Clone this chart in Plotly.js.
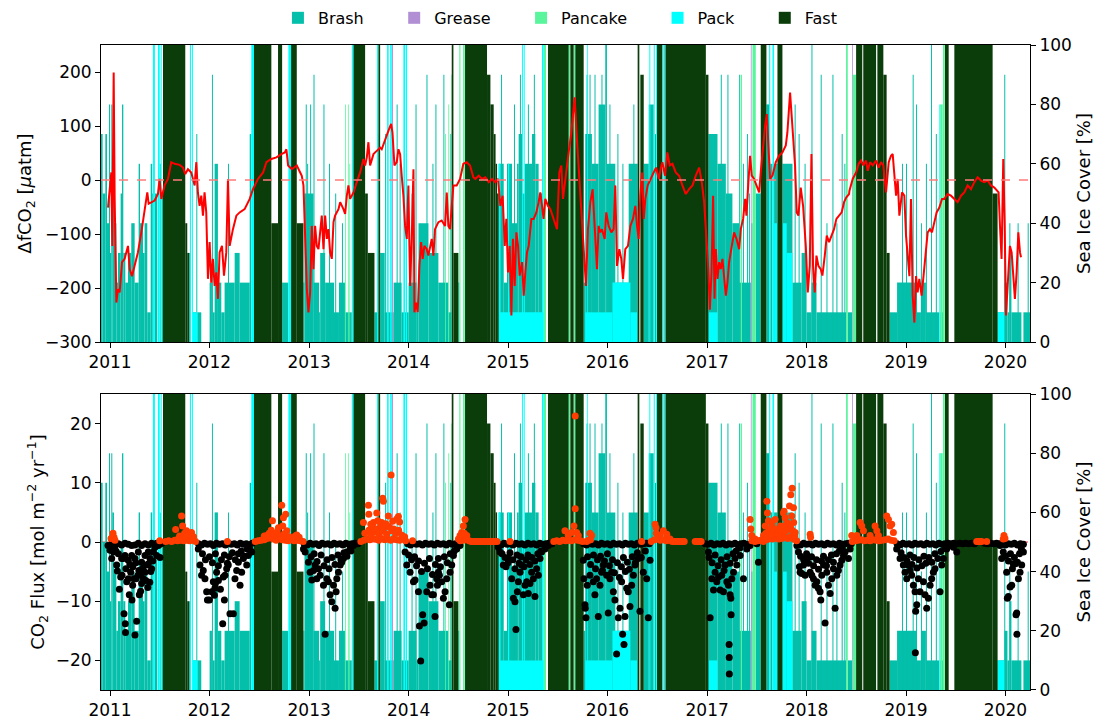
<!DOCTYPE html>
<html><head><meta charset="utf-8">
<script src="https://cdn.plot.ly/plotly-3.0.1.min.js"></script>
<style>html,body{margin:0;padding:0;background:#fff}#chart{width:1099px;height:724px}</style>
</head><body><div id="chart"></div>
<script>
// ---- Sea-ice segments: [start (decimal year), end (decimal year), cover %] ----
const brash=[
[2010.905,2010.926,70],[2010.926,2010.953,50],[2010.953,2010.970,70],[2010.970,2010.990,40],[2010.990,2011.000,80],[2011.000,2011.013,30],[2011.013,2011.023,80],[2011.023,2011.040,60],[2011.040,2011.064,40],[2011.064,2011.080,20],[2011.080,2011.107,30],[2011.107,2011.121,50],[2011.121,2011.134,80],[2011.134,2011.154,30],[2011.154,2011.181,20],[2011.181,2011.214,30],[2011.214,2011.248,40],[2011.248,2011.288,20],[2011.288,2011.302,60],[2011.302,2011.332,40],[2011.332,2011.348,30],[2011.348,2011.375,40],[2011.375,2011.409,10],[2011.409,2011.425,60],[2011.425,2011.432,50],[2011.452,2011.476,50],[2011.500,2011.510,60],[2011.520,2011.533,50],
[2011.796,2011.804,30],[2011.834,2011.868,10],[2011.868,2011.878,70],[2011.878,2011.918,10],
[2012.002,2012.025,20],[2012.025,2012.035,90],[2012.035,2012.052,10],[2012.052,2012.085,60],[2012.085,2012.119,20],[2012.119,2012.152,10],[2012.152,2012.186,20],[2012.186,2012.196,60],[2012.196,2012.253,20],[2012.253,2012.303,30],[2012.303,2012.404,20],[2012.404,2012.420,70],
[2012.729,2012.792,20],
[2012.943,2012.953,20],[2012.953,2013.044,50],[2013.044,2013.100,20],[2013.100,2013.111,10],[2013.111,2013.161,30],[2013.161,2013.250,20],[2013.250,2013.300,10],[2013.300,2013.360,20],[2013.360,2013.429,10],
[2012.966,2012.976,80],[2012.980,2012.990,60],[2013.010,2013.020,80],[2013.044,2013.054,90],[2013.144,2013.154,80],[2013.200,2013.210,60],[2013.262,2013.272,50],[2013.330,2013.340,40],
[2013.657,2013.697,10],[2013.714,2013.760,30],[2013.760,2013.850,10],[2013.850,2013.930,20],[2013.930,2014.000,10],[2014.000,2014.080,20],[2014.080,2014.100,10],[2014.100,2014.200,40],[2014.200,2014.300,30],[2014.300,2014.400,20],[2014.400,2014.434,10],[2014.501,2014.510,20],
[2013.700,2013.710,70],[2013.764,2013.774,70],[2013.880,2013.890,80],[2013.910,2013.920,60],[2014.030,2014.040,50],[2014.070,2014.080,80],[2014.180,2014.190,90],[2014.240,2014.250,60],[2014.270,2014.280,80],[2014.350,2014.360,90],[2014.420,2014.430,70],
[2014.906,2014.957,60],[2014.957,2014.990,20],[2014.990,2015.040,60],[2015.040,2015.091,40],[2015.091,2015.107,60],[2015.107,2015.141,70],[2015.141,2015.168,50],[2015.168,2015.241,60],[2015.241,2015.275,70],[2015.275,2015.308,60],[2015.308,2015.342,50],
[2014.930,2014.940,90],[2015.060,2015.070,80],[2015.120,2015.130,90],[2015.200,2015.210,80],[2015.260,2015.270,90],
[2015.761,2015.777,20],[2015.777,2015.844,70],[2015.844,2015.911,60],[2015.911,2015.978,80],[2015.978,2015.995,100],[2015.995,2016.079,60],[2016.079,2016.213,20],[2016.213,2016.303,60],
[2015.790,2015.800,90],[2015.820,2015.830,90],[2015.870,2015.880,90],[2015.940,2015.950,90],[2016.020,2016.030,80],[2016.100,2016.110,70],[2016.150,2016.160,60],[2016.260,2016.270,80],
[2016.364,2016.414,60],[2016.414,2016.464,80],[2016.475,2016.488,70],[2016.570,2016.585,100],
[2017.013,2017.104,70],[2017.104,2017.188,60],[2017.188,2017.254,50],[2017.254,2017.322,40],[2017.322,2017.439,20],[2017.445,2017.456,40],[2017.489,2017.539,50],[2017.596,2017.623,80],[2017.635,2017.657,60],
[2017.137,2017.147,90],[2017.204,2017.214,90],[2017.322,2017.332,90],[2017.360,2017.370,60],[2017.400,2017.410,70],[2017.420,2017.430,50],
[2017.673,2017.707,60],[2017.757,2017.858,60],[2017.858,2017.950,20],[2017.950,2018.000,30],[2018.000,2018.050,10],[2018.050,2018.100,20],[2018.100,2018.397,10],[2018.414,2018.457,10],
[2017.880,2017.890,80],[2017.920,2017.930,70],[2017.980,2017.990,60],[2018.049,2018.059,100],[2018.142,2018.152,90],[2018.200,2018.210,40],[2018.260,2018.270,90],[2018.300,2018.310,40],[2018.353,2018.363,70],[2018.380,2018.390,60],
[2018.835,2018.910,10],[2018.910,2019.110,20],[2019.110,2019.150,10],[2019.150,2019.200,20],[2019.200,2019.335,10],[2019.345,2019.380,10],
[2018.960,2018.970,60],[2019.000,2019.010,60],[2019.067,2019.077,90],[2019.101,2019.111,80],[2019.150,2019.160,40],[2019.200,2019.210,60],[2019.251,2019.261,100],[2019.300,2019.310,70],
[2019.921,2019.990,10],[2019.990,2020.020,20],[2020.020,2020.039,10],[2020.039,2020.060,30],[2020.060,2020.160,10],[2020.180,2020.250,10],
[2019.988,2019.998,90],[2020.039,2020.049,40],[2020.122,2020.132,40],[2020.223,2020.233,40]
];
const grease=[[2013.834,2013.844,100],[2016.065,2016.072,20],[2017.439,2017.447,100],[2018.400,2018.407,90],[2018.457,2018.465,100]];
const pancake=[
[2012.427,2012.435,100],[2013.362,2013.370,80],[2013.390,2013.398,80],[2013.405,2013.412,60],
[2014.367,2014.375,70],[2014.400,2014.408,80],[2014.430,2014.436,90],[2014.510,2014.522,100],[2014.548,2014.565,100],
[2015.358,2015.382,100],[2015.610,2015.627,100],[2015.660,2015.677,100],
[2017.338,2017.350,90],[2017.456,2017.489,100],
[2018.397,2018.414,100],[2018.464,2018.498,90],[2019.345,2019.369,80],[2019.372,2019.390,100]
];
const pack=[
[2011.432,2011.452,100],[2011.482,2011.500,100],[2011.510,2011.520,100],[2011.804,2011.815,100],[2011.825,2011.834,100],[2011.834,2011.880,10],
[2012.420,2012.447,100],[2012.792,2012.819,100],
[2013.429,2013.446,100],[2013.683,2013.697,100],[2013.784,2013.800,100],[2013.815,2013.831,100],[2013.948,2013.965,100],[2013.972,2013.985,100],
[2014.906,2015.358,10],[2014.906,2014.925,60],[2015.000,2015.012,60],[2015.141,2015.150,100],[2015.158,2015.168,100],[2015.342,2015.358,100],
[2015.777,2016.050,10],[2016.050,2016.230,20],[2016.230,2016.300,10],[2015.794,2015.802,100],
[2016.420,2016.430,100],[2016.464,2016.475,100],[2016.488,2016.497,100],[2016.555,2016.565,100],
[2017.013,2017.104,10],[2017.623,2017.635,100],[2017.657,2017.673,100],[2017.673,2017.707,40],[2017.757,2017.800,40],[2017.800,2017.858,30],
[2019.335,2019.345,80],[2019.921,2019.988,10]
];
const fast=[
[2011.533,2011.757,100],[2011.757,2011.777,40],[2011.777,2011.796,30],
[2012.447,2012.621,100],[2012.621,2012.688,40],[2012.688,2012.729,100],[2012.819,2012.876,100],[2012.876,2012.943,40],
[2013.446,2013.563,100],[2013.563,2013.590,50],[2013.590,2013.657,30],[2013.697,2013.714,100],
[2014.434,2014.451,100],[2014.451,2014.501,30],[2014.568,2014.789,100],[2014.789,2014.823,90],[2014.823,2014.856,80],[2014.856,2014.875,70],[2014.875,2014.890,60],[2014.890,2014.906,50],
[2015.402,2015.610,100],[2015.627,2015.660,100],[2015.677,2015.761,100],
[2016.303,2016.320,100],[2016.330,2016.364,90],[2016.497,2016.551,100],[2016.585,2016.987,100],[2016.987,2017.013,90],
[2017.539,2017.596,100],[2017.707,2017.757,100],
[2018.498,2018.560,100],[2018.570,2018.699,100],[2018.712,2018.772,100],[2018.772,2018.805,90],[2018.805,2018.835,30],
[2019.392,2019.429,100],[2019.486,2019.871,100],[2019.871,2019.921,50]
];

// ---- Delta fCO2 [µatm]: [decimal year, value] ----
const dfco2=[
[2010.980,-51],[2010.997,-10],[2011.013,14],[2011.023,-122],[2011.037,199],[2011.047,-35],[2011.064,-227],[2011.080,-202],[2011.097,-208],[2011.121,-152],[2011.147,-146],[2011.181,-122],[2011.198,-165],[2011.221,-178],[2011.248,-159],[2011.281,-134],[2011.315,-97],[2011.348,-54],[2011.375,-23],[2011.389,-44],[2011.415,-41],[2011.449,-38],[2011.482,-26],[2011.499,2],[2011.516,-35],[2011.549,-10],[2011.583,2],[2011.616,33],[2011.650,30],[2011.700,28],[2011.734,23],[2011.757,11],[2011.784,20],[2011.817,14],[2011.851,-10],[2011.868,33],[2011.884,-23],[2011.901,-48],[2011.918,-29],[2011.935,-66],[2011.951,-23],[2011.968,-60],[2011.985,-183],[2012.002,-115],[2012.018,-190],[2012.035,-146],[2012.052,-196],[2012.069,-171],[2012.085,-220],[2012.102,-134],[2012.126,-122],[2012.146,-177],[2012.169,-134],[2012.186,2],[2012.203,-122],[2012.219,-103],[2012.236,-91],[2012.270,-66],[2012.303,-60],[2012.353,-54],[2012.404,-35],[2012.437,-17],[2012.487,2],[2012.538,14],[2012.571,33],[2012.621,39],[2012.672,42],[2012.722,48],[2012.756,51],[2012.772,57],[2012.789,27],
[2012.826,20],[2012.876,27],[2012.910,14],[2012.926,8],[2012.943,-10],[2012.960,-109],[2012.977,-202],[2012.993,-245],[2013.010,-208],[2013.027,-85],[2013.044,-165],[2013.060,-85],[2013.077,-122],[2013.094,-128],[2013.111,-97],[2013.127,-66],[2013.144,-128],[2013.161,-66],[2013.178,-109],[2013.194,-91],[2013.211,-134],[2013.228,-146],[2013.245,-78],[2013.261,-66],[2013.295,-54],[2013.312,-41],[2013.345,-54],[2013.362,-63],[2013.379,-29],[2013.395,-10],[2013.412,-35],[2013.446,-23],[2013.479,-4],[2013.513,14],[2013.546,39],[2013.563,27],[2013.580,42],[2013.596,70],[2013.613,27],[2013.630,39],[2013.647,48],[2013.680,54],[2013.714,60],[2013.730,57],[2013.764,76],[2013.797,91],[2013.824,104],[2013.838,88],[2013.858,27],[2013.881,33],[2013.898,57],[2013.915,48],[2013.931,8],[2013.948,-29],[2013.965,-85],[2013.982,-109],[2013.998,-10],[2014.015,-196],[2014.032,-109],[2014.049,20],[2014.059,-245],[2014.075,-227],[2014.092,-245],[2014.109,-159],[2014.126,-115],[2014.142,-146],[2014.159,-122],[2014.183,-128],[2014.199,-140],[2014.216,-122],[2014.233,-109],[2014.250,-140],[2014.266,-91],[2014.300,-78],[2014.333,-75],[2014.367,-85],[2014.384,-23],[2014.400,-85],[2014.417,-91],[2014.434,-48],[2014.451,-10],[2014.484,-10],[2014.518,2],[2014.551,30],[2014.585,33],[2014.618,27],[2014.652,5],
[2014.672,2],[2014.705,8],[2014.739,2],[2014.772,5],[2014.806,-4],[2014.839,2],[2014.873,-4],[2014.900,2],[2014.923,-48],[2014.946,-29],[2014.967,-122],[2014.983,-72],[2015.000,-171],[2015.017,-122],[2015.034,-251],[2015.050,-109],[2015.067,-196],[2015.084,-97],[2015.101,-122],[2015.117,-177],[2015.141,-152],[2015.158,-214],[2015.174,-171],[2015.191,-134],[2015.208,-122],[2015.235,-72],[2015.258,-72],[2015.285,-60],[2015.308,-41],[2015.325,-23],[2015.342,-48],[2015.358,-72],[2015.375,-35],[2015.402,-48],[2015.426,-54],[2015.459,-72],[2015.493,-91],[2015.516,14],[2015.536,27],[2015.553,-35],[2015.576,2],[2015.610,51],[2015.637,88],[2015.660,138],[2015.670,153],[2015.693,76],[2015.727,-23],[2015.754,-115],[2015.784,-196],[2015.804,-91],[2015.828,-41],[2015.851,-17],[2015.871,-85],[2015.895,-165],[2015.911,-85],[2015.928,-97],[2015.945,-91],[2015.972,-109],[2015.988,-60],[2016.012,-85],[2016.039,-97],[2016.062,-91],[2016.079,-10],[2016.096,-159],[2016.119,-128],[2016.139,-146],[2016.156,-183],[2016.179,-128],[2016.206,-122],[2016.230,-85],[2016.256,-72],[2016.280,-48],[2016.297,-85],[2016.313,-109],[2016.330,-29],[2016.347,14],[2016.364,-72],[2016.380,-35],[2016.404,-10],[2016.431,2],[2016.464,14],[2016.488,23],[2016.514,2],[2016.541,27],
[2016.551,33],[2016.578,8],[2016.601,51],[2016.625,27],[2016.652,30],[2016.685,14],[2016.719,8],[2016.752,-10],[2016.786,-26],[2016.819,-17],[2016.853,-10],[2016.886,8],[2016.920,23],[2016.946,-4],[2016.970,-41],[2016.993,-109],[2017.013,-171],[2017.027,-240],[2017.044,-171],[2017.060,-29],[2017.074,-220],[2017.087,-128],[2017.104,-183],[2017.121,-152],[2017.137,-165],[2017.154,-146],[2017.171,-183],[2017.188,-214],[2017.204,-190],[2017.221,-152],[2017.248,-122],[2017.271,-97],[2017.295,-109],[2017.322,-128],[2017.338,-91],[2017.362,-72],[2017.382,-35],[2017.395,-66],[2017.415,-4],[2017.432,45],[2017.449,8],[2017.472,2],[2017.496,-10],[2017.523,-23],[2017.539,14],[2017.563,64],[2017.583,101],[2017.600,122],[2017.616,64],[2017.633,2],[2017.657,8],[2017.690,33],[2017.724,45],[2017.757,51],[2017.791,64],[2017.807,88],[2017.834,162],[2017.858,101],[2017.884,27],[2017.901,-60],[2017.918,-66],[2017.941,-14],[2017.965,-48],[2017.992,-122],[2018.012,-208],[2018.032,-159],[2018.049,48],[2018.065,-159],[2018.082,-208],[2018.099,-140],[2018.119,-159],[2018.142,-165],[2018.159,-177],[2018.183,-140],[2018.203,-103],[2018.226,-115],[2018.253,-103],[2018.276,-91],[2018.300,-72],[2018.327,-66],[2018.353,-60],[2018.377,-41],[2018.400,-32],[2018.427,-26],
[2018.431,-20],[2018.464,2],[2018.498,14],[2018.524,30],[2018.548,36],[2018.571,27],[2018.598,36],[2018.615,17],[2018.638,33],[2018.665,27],[2018.699,36],[2018.725,23],[2018.749,33],[2018.772,27],[2018.799,-23],[2018.826,33],[2018.849,45],[2018.866,48],[2018.883,14],[2018.900,-29],[2018.916,2],[2018.933,-66],[2018.960,-23],[2018.983,-29],[2019.000,-103],[2019.017,-146],[2019.034,-178],[2019.050,-35],[2019.067,-214],[2019.084,-264],[2019.101,-178],[2019.117,-208],[2019.134,-183],[2019.157,-214],[2019.174,-183],[2019.194,-134],[2019.218,-97],[2019.241,-91],[2019.261,-97],[2019.285,-78],[2019.308,-60],[2019.335,-51],[2019.362,-35],[2019.385,-35],[2019.419,-26],[2019.452,-29],[2019.486,-35],[2019.519,-41],[2019.553,-29],[2019.586,-23],[2019.620,-10],[2019.653,-17],[2019.687,-4],[2019.720,5],[2019.754,-1],[2019.787,-4],[2019.821,-1],[2019.854,-10],[2019.888,-14],[2019.911,-20],[2019.931,-23],[2019.945,-85],[2019.961,-146],[2019.978,39],[2019.992,-78],[2020.005,-251],[2020.025,-196],[2020.045,-122],[2020.062,-134],[2020.079,-171],[2020.095,-220],[2020.112,-171],[2020.129,-97],[2020.146,-134],[2020.156,-143]
];

// ---- CO2 flux [mol m-2 yr-1]: [decimal year, value] ----
const flux=[
[2010.98,-0.6],[2011.0,-1.4],[2011.017,-2.8],[2011.034,-1.7],[2011.05,-0.6],[2011.067,-3.9],[2011.074,-4.9],[2011.094,-8.0],[2011.107,-5.9],[2011.121,-5.6],[2011.134,-2.8],[2011.141,-12.1],[2011.154,-13.8],[2011.156,-15.3],[2011.168,-6.7],[2011.184,-6.2],[2011.194,-8.9],[2011.208,-5.1],[2011.221,-9.8],[2011.228,-7.3],[2011.241,-6.2],[2011.251,-15.7],[2011.261,-6.2],[2011.268,-13.4],[2011.281,-5.6],[2011.295,-8.9],[2011.308,-8.3],[2011.318,-7.0],[2011.335,-6.2],[2011.352,-5.1],[2011.369,-3.9],[2011.385,-3.7],[2011.402,-2.8],[2011.419,-4.5],[2011.436,-1.7],[2011.452,-0.9],[2011.469,-2.3],[2011.486,-0.6],[2011.503,-2.6],
[2011.084,-0.3],[2011.117,-0.5],[2011.151,-0.2],[2011.184,-0.4],[2011.218,-0.6],[2011.251,-0.5],[2011.285,-0.2],[2011.318,-0.6],[2011.352,-0.3],[2011.385,-0.5],[2011.419,-0.2],[2011.469,-0.2],[2011.5,-0.4],[2011.52,-0.2],[2011.084,-2.0],[2011.117,-2.8],[2011.151,-2.3],[2011.184,-3.1],[2011.218,-2.3],[2011.251,-2.8],[2011.285,-1.7],[2011.318,-3.4],[2011.352,-2.3],[2011.385,-1.7],[2011.02,-0.3],[2011.04,-1.0],[2011.06,-1.5],[2011.16,-4.5],[2011.2,-3.8],[2011.23,-4.2],[2011.26,-3.5],[2011.29,-4.8],[2011.31,-5.5],[2011.33,-4.4],[2011.36,-6.5],[2011.38,-7.7],[2011.4,-6.8],[2011.41,-5.0],[2011.43,-3.2],
[2011.01,0.6],[2011.03,1.5],[2011.04,0.8],[2011.05,0.3],[2011.50,0.2],
[2011.56,0.1],[2011.59,0.2],[2011.62,0.1],[2011.65,0.3],[2011.68,0.2],[2011.71,0.3],[2011.74,0.2],[2011.77,0.3],[2011.8,0.2],[2011.83,0.3],[2011.86,0.1],[2011.66,2.1],[2011.70,1.0],[2011.72,4.4],[2011.73,2.7],[2011.75,1.5],[2011.77,1.9],[2011.79,1.5],[2011.80,1.2],[2011.82,1.6],[2011.84,0.9],[2011.69,0.6],[2011.76,0.8],[2011.78,1.0],
[2011.888,-1.2],[2011.905,-3.9],[2011.921,-5.6],[2011.938,-4.8],[2011.955,-6.2],[2011.972,-8.4],[2011.98,-9.8],[2012.0,-9.8],[2012.022,-8.4],[2012.039,-6.7],[2012.05,-9.0],[2012.055,-7.8],[2012.072,-5.1],[2012.133,-13.8],[2012.206,-12.1],[2012.24,-12.1],[2012.15,-9.8],[2012.139,-5.9],[2012.156,-5.6],[2012.173,-4.5],[2012.189,-3.9],[2012.256,-6.2],[2012.273,-4.8],[2012.290,-3.4],[2012.307,-7.3],[2012.323,-5.1],[2012.340,-2.8],[2012.374,-3.9],[2012.390,-2.3],[2012.407,-1.2],[2012.424,-1.7],[2012.09,-6.5],[2012.11,-8.0],[2012.06,-7.0],
[2011.89,-0.3],[2011.92,-0.5],[2011.95,-0.2],[2011.98,-0.4],[2012.01,-0.3],[2012.04,-0.6],[2012.07,-0.2],[2012.1,-0.4],[2012.13,-0.3],[2012.16,-0.5],[2012.19,-0.2],[2012.22,-0.4],[2012.25,-0.3],[2012.28,-0.5],[2012.31,-0.2],[2012.34,-0.4],[2012.37,-0.3],[2012.4,-0.5],[2012.43,-0.2],
[2011.93,-2.0],[2011.96,-3.0],[2012.0,-2.5],[2012.03,-3.5],[2012.06,-2.0],[2012.09,-4.0],[2012.12,-3.0],[2012.15,-2.2],[2012.18,-3.6],[2012.2,-2.5],[2012.23,-1.8],[2012.26,-3.0],[2012.29,-2.0],[2012.32,-1.5],[2012.35,-2.4],[2012.38,-1.2],
[2012.18,0.1],
[2012.632,3.6],[2012.725,6.2],[2012.765,4.7],[2012.742,4.1],[2012.735,2.7],[2012.776,1.9],[2012.692,2.4],[2012.575,1.1],[2012.843,0.5],[2012.876,1.2],
[2012.46,0.1],[2012.49,0.2],[2012.52,0.3],[2012.55,0.4],[2012.58,0.6],[2012.61,0.8],[2012.64,0.5],[2012.67,0.3],[2012.7,0.6],[2012.73,0.4],[2012.76,0.3],[2012.79,0.2],[2012.82,0.4],[2012.85,0.2],[2012.88,0.3],[2012.91,0.2],[2012.94,0.1],
[2012.55,1.0],[2012.6,1.5],[2012.62,2.0],[2012.65,1.3],[2012.68,1.7],[2012.71,1.0],[2012.75,1.4],[2012.8,0.9],[2012.86,1.0],[2012.9,0.8],
[2012.943,-1.2],[2012.960,-1.7],[2012.993,-3.4],[2013.010,-5.1],[2013.027,-6.4],[2013.044,-4.8],[2013.060,-3.9],[2013.077,-6.2],[2013.094,-4.5],[2013.111,-5.6],[2013.144,-7.3],[2013.161,-15.6],[2013.178,-6.2],[2013.194,-6.7],[2013.211,-8.9],[2013.228,-10.1],[2013.245,-7.3],[2013.261,-11.2],[2013.271,-8.4],[2013.278,-6.2],[2013.295,-5.1],[2013.312,-3.9],[2013.328,-3.4],[2013.345,-2.8],[2013.379,-1.7],[2013.412,-1.2],[2013.446,-0.6],
[2012.95,-0.3],[2012.98,-0.5],[2013.01,-0.2],[2013.04,-0.4],[2013.07,-0.3],[2013.1,-0.6],[2013.13,-0.2],[2013.16,-0.4],[2013.19,-0.3],[2013.22,-0.5],[2013.25,-0.2],[2013.28,-0.4],[2013.31,-0.3],[2013.34,-0.5],[2013.37,-0.2],[2013.4,-0.4],[2013.43,-0.3],[2013.46,-0.2],[2013.49,-0.3],
[2013.02,-2.5],[2013.05,-2.0],[2013.08,-3.3],[2013.12,-2.2],[2013.15,-4.0],[2013.18,-3.0],[2013.2,-4.5],[2013.23,-2.6],[2013.26,-3.8],[2013.29,-2.2],[2013.32,-3.0],[2013.35,-1.8],[2013.38,-2.4],[2013.42,-1.5],
[2013.596,6.2],[2013.600,4.7],[2013.740,7.4],[2013.747,6.9],[2013.824,11.3],[2013.881,3.9],[2013.898,4.3],[2013.680,4.9],[2013.797,4.4],[2013.730,3.3],[2013.781,2.7],[2013.647,3.3],[2013.546,3.3],
[2013.52,0.1],[2013.55,0.3],[2013.58,0.5],[2013.61,0.4],[2013.64,0.6],[2013.67,0.5],[2013.7,0.3],[2013.73,0.6],[2013.76,0.4],[2013.79,0.5],[2013.82,0.3],[2013.85,0.6],[2013.88,0.4],[2013.91,0.3],[2013.94,0.5],[2013.97,0.2],
[2013.56,1.5],[2013.6,2.0],[2013.62,1.2],[2013.64,2.5],[2013.66,1.7],[2013.68,2.2],[2013.7,1.4],[2013.72,2.8],[2013.74,1.8],[2013.76,2.4],[2013.78,1.3],[2013.8,2.6],[2013.83,1.9],[2013.85,2.2],[2013.87,1.5],[2013.9,2.0],[2013.93,1.2],[2013.96,0.9],[2013.62,3.0],[2013.69,3.6],[2013.77,3.1],[2013.84,3.5],[2013.91,3.4],
[2014.04,0.2],
[2013.965,-1.7],[2013.982,-3.9],[2014.015,-5.1],[2014.049,-6.7],[2014.065,-6.4],[2014.099,-8.4],[2014.109,-14.2],[2014.122,-20.1],[2014.142,-12.3],[2014.156,-13.7],[2014.183,-8.4],[2014.216,-7.3],[2014.233,-8.9],[2014.266,-12.6],[2014.283,-6.2],[2014.300,-5.1],[2014.250,-8.9],[2014.290,-7.3],[2014.310,-5.6],[2014.333,-6.7],[2014.350,-9.5],[2014.367,-8.4],[2014.384,-6.2],[2014.410,-10.6],[2014.417,-5.1],[2014.434,-3.9],[2014.451,-2.3],[2014.484,-1.2],[2014.518,-0.6],
[2013.99,-0.3],[2014.02,-0.5],[2014.05,-0.2],[2014.08,-0.4],[2014.11,-0.3],[2014.14,-0.5],[2014.17,-0.2],[2014.2,-0.4],[2014.23,-0.3],[2014.26,-0.5],[2014.29,-0.2],[2014.32,-0.4],[2014.35,-0.3],[2014.38,-0.5],[2014.41,-0.2],[2014.44,-0.4],[2014.47,-0.3],[2014.5,-0.2],
[2014.0,-2.2],[2014.03,-3.0],[2014.06,-2.5],[2014.08,-4.0],[2014.1,-3.2],[2014.13,-5.0],[2014.16,-3.6],[2014.19,-4.5],[2014.21,-2.8],[2014.24,-5.5],[2014.27,-3.8],[2014.3,-2.8],[2014.32,-4.2],[2014.36,-2.5],[2014.39,-3.5],[2014.42,-2.0],[2014.46,-1.5],
[2014.501,0.5],[2014.518,1.1],[2014.534,1.6],[2014.551,2.7],[2014.568,3.8],[2014.585,1.1],[2014.54,0.8],[2014.56,1.5],
[2014.52,0.2],[2014.55,0.3],[2014.58,0.4],[2014.61,0.2],[2014.63,0.1],[2014.65,0.1],[2014.67,0.1],[2014.69,0.1],[2014.71,0.1],[2014.73,0.1],[2014.75,0.1],[2014.77,0.1],[2014.79,0.1],[2014.81,0.1],[2014.83,0.1],[2014.85,0.1],[2014.87,0.1],[2014.89,0.1],[2015.02,0.1],
[2014.903,-0.9],[2014.920,-1.7],[2014.953,-3.9],[2014.980,-4.2],[2015.003,-2.8],[2015.037,-6.2],[2015.054,-9.5],[2015.070,-10.1],[2015.080,-14.8],[2015.094,-8.4],[2015.104,-6.7],[2015.121,-5.1],[2015.137,-3.9],[2015.154,-8.9],[2015.171,-7.3],[2015.188,-6.7],[2015.204,-8.7],[2015.221,-7.0],[2015.238,-5.1],[2015.255,-6.2],[2015.271,-9.2],[2015.288,-4.5],[2015.305,-5.6],[2015.322,-2.8],[2015.338,-1.7],[2015.372,-1.2],[2015.405,-0.6],[2015.439,-0.3],
[2014.9,-0.3],[2014.93,-0.5],[2014.96,-0.2],[2014.99,-0.4],[2015.02,-0.3],[2015.05,-0.5],[2015.08,-0.2],[2015.11,-0.4],[2015.14,-0.3],[2015.17,-0.5],[2015.2,-0.2],[2015.23,-0.4],[2015.26,-0.3],[2015.29,-0.5],[2015.32,-0.2],[2015.35,-0.4],[2015.38,-0.3],[2015.41,-0.2],[2015.44,-0.3],
[2014.94,-2.0],[2014.97,-2.6],[2015.0,-3.5],[2015.02,-1.8],[2015.05,-3.0],[2015.07,-4.5],[2015.09,-2.2],[2015.11,-3.6],[2015.13,-2.5],[2015.16,-4.2],[2015.18,-3.0],[2015.2,-2.2],[2015.22,-3.8],[2015.24,-2.6],[2015.27,-3.2],[2015.3,-2.0],[2015.33,-1.5],
[2015.573,1.9],[2015.606,1.1],[2015.640,1.6],[2015.663,2.7],[2015.676,5.6],[2015.676,21.3],[2015.690,1.6],[2015.707,1.1],[2015.824,1.5],[2015.841,1.1],[2015.791,0.1],
[2015.46,0.1],[2015.49,0.2],[2015.52,0.1],[2015.55,0.3],[2015.58,0.2],[2015.61,0.3],[2015.64,0.2],[2015.67,0.4],[2015.7,0.3],[2015.73,0.2],[2015.75,0.1],[2015.81,0.3],[2015.83,0.4],
[2015.757,-3.1],[2015.764,-6.2],[2015.774,-10.6],[2015.777,-11.2],[2015.784,-12.8],[2015.797,-7.3],[2015.824,-5.6],[2015.858,-6.7],[2015.874,-8.9],[2015.891,-6.2],[2015.908,-12.6],[2015.925,-7.3],[2015.941,-5.1],[2015.958,-3.9],[2015.992,-5.6],[2016.008,-12.0],[2016.025,-6.2],[2016.042,-5.1],[2016.059,-8.4],[2016.075,-9.8],[2016.092,-18.9],[2016.109,-12.8],[2016.126,-11.2],[2016.142,-6.7],[2016.152,-15.6],[2016.166,-17.3],[2016.176,-12.6],[2016.193,-7.8],[2016.209,-8.4],[2016.226,-10.9],[2016.243,-7.3],[2016.260,-5.6],[2016.276,-3.9],[2016.310,-2.8],[2016.326,-11.7],[2016.360,-5.1],[2016.394,-6.2],[2016.410,-12.8],[2016.427,-3.1],
[2015.76,-0.3],[2015.79,-0.5],[2015.82,-0.2],[2015.85,-0.4],[2015.88,-0.3],[2015.91,-0.5],[2015.94,-0.2],[2015.97,-0.4],[2016.0,-0.3],[2016.03,-0.5],[2016.06,-0.2],[2016.09,-0.4],[2016.12,-0.3],[2016.15,-0.5],[2016.18,-0.2],[2016.21,-0.4],[2016.24,-0.3],[2016.27,-0.5],[2016.3,-0.2],[2016.33,-0.4],[2016.36,-0.3],[2016.39,-0.2],[2016.42,-0.3],
[2015.8,-2.5],[2015.83,-3.8],[2015.86,-2.2],[2015.88,-4.5],[2015.9,-3.0],[2015.93,-2.4],[2015.95,-4.8],[2015.97,-3.2],[2016.0,-2.0],[2016.02,-4.0],[2016.05,-3.0],[2016.07,-5.2],[2016.1,-3.5],[2016.12,-6.0],[2016.14,-4.2],[2016.16,-2.6],[2016.18,-5.0],[2016.2,-3.4],[2016.22,-4.6],[2016.25,-2.5],[2016.28,-3.5],[2016.3,-1.8],[2016.34,-2.6],[2016.38,-1.5],
[2016.343,0.1],[2016.477,3.0],[2016.487,2.4],[2016.528,1.1],[2016.561,1.9],[2016.595,1.3],[2016.628,0.5],[2016.49,1.5],[2016.51,0.9],
[2016.44,0.1],[2016.47,0.4],[2016.5,0.5],[2016.53,0.3],[2016.56,0.4],[2016.59,0.2],[2016.62,0.3],[2016.65,0.1],[2016.67,0.1],[2016.69,0.1],[2016.71,0.1],[2016.73,0.1],[2016.75,0.1],[2016.77,0.1],[2016.88,0.1],[2016.9,0.1],[2016.92,0.1],[2016.94,0.1],
[2017.013,-1.7],[2017.030,-12.8],[2017.047,-6.2],[2017.064,-8.1],[2017.080,-5.1],[2017.097,-6.7],[2017.114,-5.9],[2017.131,-8.1],[2017.147,-5.6],[2017.164,-8.4],[2017.181,-3.9],[2017.198,-6.7],[2017.214,-7.3],[2017.221,-17.3],[2017.222,-19.5],[2017.223,-22.3],[2017.231,-8.9],[2017.238,-9.5],[2017.241,-12.3],[2017.248,-6.2],[2017.265,-5.1],[2017.281,-2.8],[2017.298,-3.9],[2017.332,-2.3],[2017.365,-6.2],[2017.399,-1.2],[2017.432,-0.6],[2017.516,-3.4],
[2016.98,-0.3],[2017.01,-0.4],[2017.04,-0.2],[2017.07,-0.5],[2017.1,-0.3],[2017.13,-0.4],[2017.16,-0.2],[2017.19,-0.5],[2017.22,-0.3],[2017.25,-0.4],[2017.28,-0.2],[2017.31,-0.5],[2017.34,-0.3],[2017.37,-0.2],[2017.4,-0.4],[2017.5,-0.3],
[2017.02,-2.6],[2017.05,-3.5],[2017.08,-2.2],[2017.11,-4.0],[2017.14,-3.0],[2017.17,-4.8],[2017.2,-2.5],[2017.23,-3.6],[2017.26,-2.0],[2017.29,-1.5],[2017.33,-1.0],
[2017.432,3.8],[2017.439,2.2],[2017.449,1.1],[2017.482,0.5],[2017.566,0.1],[2017.583,2.7],[2017.600,6.9],[2017.606,4.9],[2017.616,3.6],[2017.633,1.6],[2017.650,2.4],[2017.667,1.1],[2017.700,1.1],
[2017.684,3.8],[2017.734,2.7],[2017.768,4.9],[2017.774,5.2],[2017.784,4.1],[2017.801,3.3],[2017.828,6.1],[2017.841,8.0],[2017.855,9.1],[2017.868,5.8],[2017.851,4.4],[2017.870,3.3],[2017.885,1.6],[2017.818,2.2],[2017.751,1.6],[2017.701,1.9],[2017.652,3.0],[2017.567,1.1],
[2017.45,0.2],[2017.48,0.1],[2017.51,0.2],[2017.54,0.3],[2017.57,0.5],[2017.6,0.4],[2017.63,0.6],[2017.66,0.5],[2017.69,0.7],[2017.72,0.5],[2017.75,0.6],[2017.78,0.8],[2017.81,0.6],[2017.84,0.9],[2017.87,0.5],[2017.9,0.2],
[2017.59,1.5],[2017.62,2.0],[2017.65,1.2],[2017.68,2.2],[2017.71,1.4],[2017.74,2.0],[2017.77,2.6],[2017.79,1.8],[2017.82,3.0],[2017.84,2.4],[2017.86,1.9],[2017.88,1.0],
[2018.036,1.3],[2018.04,0.8],
[2017.902,-0.6],[2017.918,-1.7],[2017.928,-4.2],[2017.935,-5.1],[2017.952,-5.3],[2017.969,-3.9],[2017.985,-5.6],[2018.002,-2.8],[2018.036,-5.1],[2018.052,-5.6],[2018.069,-6.2],[2018.086,-7.3],[2018.103,-6.7],[2018.119,-7.8],[2018.136,-8.4],[2018.143,-9.8],[2018.153,-5.6],[2018.170,-3.9],[2018.186,-13.7],[2018.203,-5.1],[2018.220,-7.3],[2018.237,-8.7],[2018.253,-6.2],[2018.270,-4.5],[2018.287,-11.2],[2018.304,-5.6],[2018.320,-4.8],[2018.337,-3.9],[2018.354,-3.1],[2018.371,-2.3],[2018.387,-1.7],[2018.421,-2.8],[2018.438,-1.2],
[2017.91,-0.3],[2017.94,-0.5],[2017.97,-0.2],[2018.0,-0.4],[2018.03,-0.3],[2018.06,-0.5],[2018.09,-0.2],[2018.12,-0.4],[2018.15,-0.3],[2018.18,-0.5],[2018.21,-0.2],[2018.24,-0.4],[2018.27,-0.3],[2018.3,-0.5],[2018.33,-0.2],[2018.36,-0.4],[2018.39,-0.3],[2018.42,-0.2],[2018.45,-0.3],
[2017.94,-2.4],[2017.97,-3.0],[2018.0,-2.0],[2018.02,-3.6],[2018.05,-2.5],[2018.07,-4.0],[2018.1,-3.0],[2018.12,-4.6],[2018.15,-3.2],[2018.17,-2.4],[2018.2,-4.0],[2018.22,-3.0],[2018.25,-2.2],[2018.27,-3.4],[2018.3,-2.0],[2018.33,-1.5],[2018.36,-1.0],
[2018.454,1.1],[2018.505,1.1],[2018.538,3.3],[2018.555,2.7],[2018.572,1.9],[2018.639,1.1],[2018.689,2.7],[2018.706,1.9],[2018.722,1.1],[2018.806,4.4],[2018.823,3.8],[2018.840,2.7],[2018.856,3.0],[2018.873,1.6],
[2018.46,0.1],[2018.49,0.2],[2018.52,0.3],[2018.55,0.4],[2018.58,0.2],[2018.61,0.3],[2018.64,0.2],[2018.67,0.4],[2018.7,0.3],[2018.73,0.2],[2018.76,0.3],[2018.79,0.4],[2018.82,0.5],[2018.85,0.3],[2018.88,0.2],
[2018.906,-1.2],[2018.940,-2.8],[2018.973,-3.9],[2018.990,-5.1],[2019.007,-6.2],[2019.024,-3.9],[2019.041,-4.8],[2019.057,-5.6],[2019.074,-7.3],[2019.091,-8.4],[2019.094,-18.7],[2019.097,-11.7],[2019.108,-10.6],[2019.124,-6.2],[2019.141,-8.4],[2019.175,-6.7],[2019.191,-8.9],[2019.208,-11.2],[2019.225,-9.5],[2019.242,-7.3],[2019.258,-6.2],[2019.275,-5.1],[2019.292,-4.5],[2019.342,-8.4],[2019.359,-3.9],[2019.376,-2.8],[2019.409,-1.2],[2019.443,-0.6],[2019.476,-0.9],[2019.510,-1.7],
[2018.91,-0.3],[2018.94,-0.5],[2018.97,-0.2],[2019.0,-0.4],[2019.03,-0.3],[2019.06,-0.5],[2019.09,-0.2],[2019.12,-0.4],[2019.15,-0.3],[2019.18,-0.5],[2019.21,-0.2],[2019.24,-0.4],[2019.27,-0.3],[2019.3,-0.5],[2019.33,-0.2],[2019.36,-0.4],[2019.39,-0.3],[2019.42,-0.2],[2019.45,-0.3],[2019.48,-0.2],[2019.51,-0.3],[2019.54,-0.2],[2019.57,-0.3],[2019.6,-0.2],[2019.63,-0.3],[2019.66,-0.2],[2019.69,-0.3],[2019.79,-0.2],[2019.82,-0.3],[2019.85,-0.2],[2019.88,-0.3],[2019.91,-0.2],[2019.94,-0.3],
[2018.95,-1.8],[2018.98,-2.6],[2019.01,-3.2],[2019.04,-2.2],[2019.06,-3.8],[2019.08,-2.6],[2019.11,-4.4],[2019.13,-3.0],[2019.16,-4.0],[2019.18,-2.4],[2019.2,-3.6],[2019.23,-2.6],[2019.26,-3.4],[2019.29,-2.0],[2019.32,-2.8],[2019.35,-1.6],[2019.39,-1.0],
[2019.711,0.1],[2019.727,0.1],[2019.744,0.1],[2019.76,0.1],[2019.811,0.1],[2019.978,0.5],[2019.985,1.1],[2019.995,0.6],
[2019.945,-0.6],[2019.962,-2.8],[2019.978,-1.7],[2020.012,-5.1],[2020.019,-9.5],[2020.029,-9.2],[2020.046,-7.6],[2020.063,-7.3],[2020.079,-3.7],[2020.096,-3.7],[2020.106,-12.3],[2020.113,-12.0],[2020.115,-15.6],[2020.130,-6.2],[2020.146,-5.1],[2020.163,-3.9],[2020.180,-1.7],
[2019.97,-0.3],[2020.0,-0.5],[2020.03,-0.3],[2020.06,-0.4],[2020.09,-0.2],[2020.12,-0.5],[2020.15,-0.3],[2020.18,-0.4],
[2020.0,-2.4],[2020.03,-3.2],[2020.05,-2.0],[2020.07,-4.5],[2020.09,-2.6],[2020.12,-3.4],[2020.14,-2.0],[2020.16,-1.2]
];

const iceTypes=['Brash','Grease','Pancake','Pack','Fast'];
const iceColors=['#04bfaa','#b28fd4','#58f59c','#00ffff','#0b3d0b'];
const iceData=[brash,grease,pancake,pack,fast];
const xStart=2010.9095, xEnd=2020.2462;

function toMs(y){const Y=Math.floor(y);const a=Date.UTC(Y,0,1),b=Date.UTC(Y+1,0,1);return a+(y-Y)*(b-a);}
function iso(ms){return new Date(ms).toISOString().slice(0,23).replace('T',' ');}
const pad='\u00a0\u00a0\u00a0\u00a0\u00a0';

const traces=[];
function addIce(xa,ya,show){
  iceData.forEach((list,i)=>{
    traces.push({type:'bar',name:iceTypes[i]+(i<iceTypes.length-1?pad:''),legendgroup:iceTypes[i],showlegend:show,
      x:list.map(d=>iso((toMs(d[0])+toMs(d[1]))/2)),
      y:list.map(d=>d[2]),
      width:list.map(d=>toMs(d[1])-toMs(d[0])),
      marker:{color:iceColors[i],line:{width:0}},
      xaxis:xa,yaxis:ya,hoverinfo:'skip'});
  });
}
addIce('x','y',true);
traces.push({type:'scatter',mode:'lines',x:dfco2.map(d=>iso(toMs(d[0]))),y:dfco2.map(d=>d[1]),
  line:{color:'#ff0000',width:2},xaxis:'x',yaxis:'y2',showlegend:false,hoverinfo:'skip'});
addIce('x2','y3',false);
const neg=flux.filter(d=>d[1]<0), pos=flux.filter(d=>d[1]>=0);
traces.push({type:'scatter',mode:'markers',x:neg.map(d=>iso(toMs(d[0]))),y:neg.map(d=>d[1]),
  marker:{color:'#000000',size:7},xaxis:'x2',yaxis:'y4',showlegend:false,hoverinfo:'skip'});
traces.push({type:'scatter',mode:'markers',x:pos.map(d=>iso(toMs(d[0]))),y:pos.map(d=>d[1]),
  marker:{color:'#ff3d00',size:7},xaxis:'x2',yaxis:'y4',showlegend:false,hoverinfo:'skip'});

const tickFont={family:'DejaVu Sans',size:17,color:'#000'};
const titleFont={family:'DejaVu Sans',size:18,color:'#000'};
const xCommon={type:'date',range:[iso(toMs(xStart)),iso(toMs(xEnd))],tick0:'2011-01-01',dtick:'M12',tickformat:'%Y',
  showline:true,linecolor:'#000',linewidth:1,mirror:true,ticks:'outside',ticklen:5,tickcolor:'#000',showgrid:false,zeroline:false,tickfont:tickFont,automargin:false};
const yCommon={showline:true,linecolor:'#000',linewidth:1,ticks:'outside',ticklen:5,tickcolor:'#000',showgrid:false,zeroline:false,tickfont:tickFont,automargin:false};

const layout={
  width:1099,height:724,margin:{l:101,r:69,t:45,b:34,autoexpand:false},
  paper_bgcolor:'#fff',plot_bgcolor:'#fff',barmode:'overlay',
  font:{family:'DejaVu Sans',color:'#000'},
  showlegend:true,
  legend:{orientation:'h',x:0.494,xanchor:'center',y:1.042,yanchor:'middle',
    font:{family:'DejaVu Sans',size:16,color:'#000'},bgcolor:'rgba(0,0,0,0)',traceorder:'normal'},
  xaxis:Object.assign({},xCommon,{anchor:'y',domain:[0,1]}),
  xaxis2:Object.assign({},xCommon,{anchor:'y3',domain:[0,1]}),
  yaxis:Object.assign({},yCommon,{domain:[0.5395,1],anchor:'x',side:'right',range:[0,100],dtick:20,
    title:{text:'Sea Ice Cover [%]',font:titleFont,standoff:6}}),
  yaxis2:Object.assign({},yCommon,{overlaying:'y',anchor:'x',side:'left',range:[-300,250],tickvals:[-300,-200,-100,0,100,200],
    title:{text:'ΔfCO<sub>2</sub> [<i>μ</i>atm]',font:titleFont,standoff:8}}),
  yaxis3:Object.assign({},yCommon,{domain:[0,0.4589],anchor:'x2',side:'right',range:[0,100],dtick:20,
    title:{text:'Sea Ice Cover [%]',font:titleFont,standoff:6}}),
  yaxis4:Object.assign({},yCommon,{overlaying:'y3',anchor:'x2',side:'left',range:[-25,25],tickvals:[-20,-10,0,10,20],
    title:{text:'CO<sub>2</sub> Flux [mol m<sup>−2</sup> yr<sup>−1</sup>]',font:titleFont,standoff:6}}),
  shapes:[
    {type:'line',xref:'x domain',x0:0,x1:1,yref:'y2',y0:0,y1:0,line:{color:'#ff7b7b',width:1.5,dash:'dash'},layer:'above'},
    {type:'line',xref:'x2 domain',x0:0,x1:1,yref:'y4',y0:0,y1:0,line:{color:'#ff7b7b',width:1.5,dash:'dash'},layer:'below'}
  ]
};
Plotly.newPlot('chart',traces,layout,{displayModeBar:false,staticPlot:true});
</script>
</body></html>
